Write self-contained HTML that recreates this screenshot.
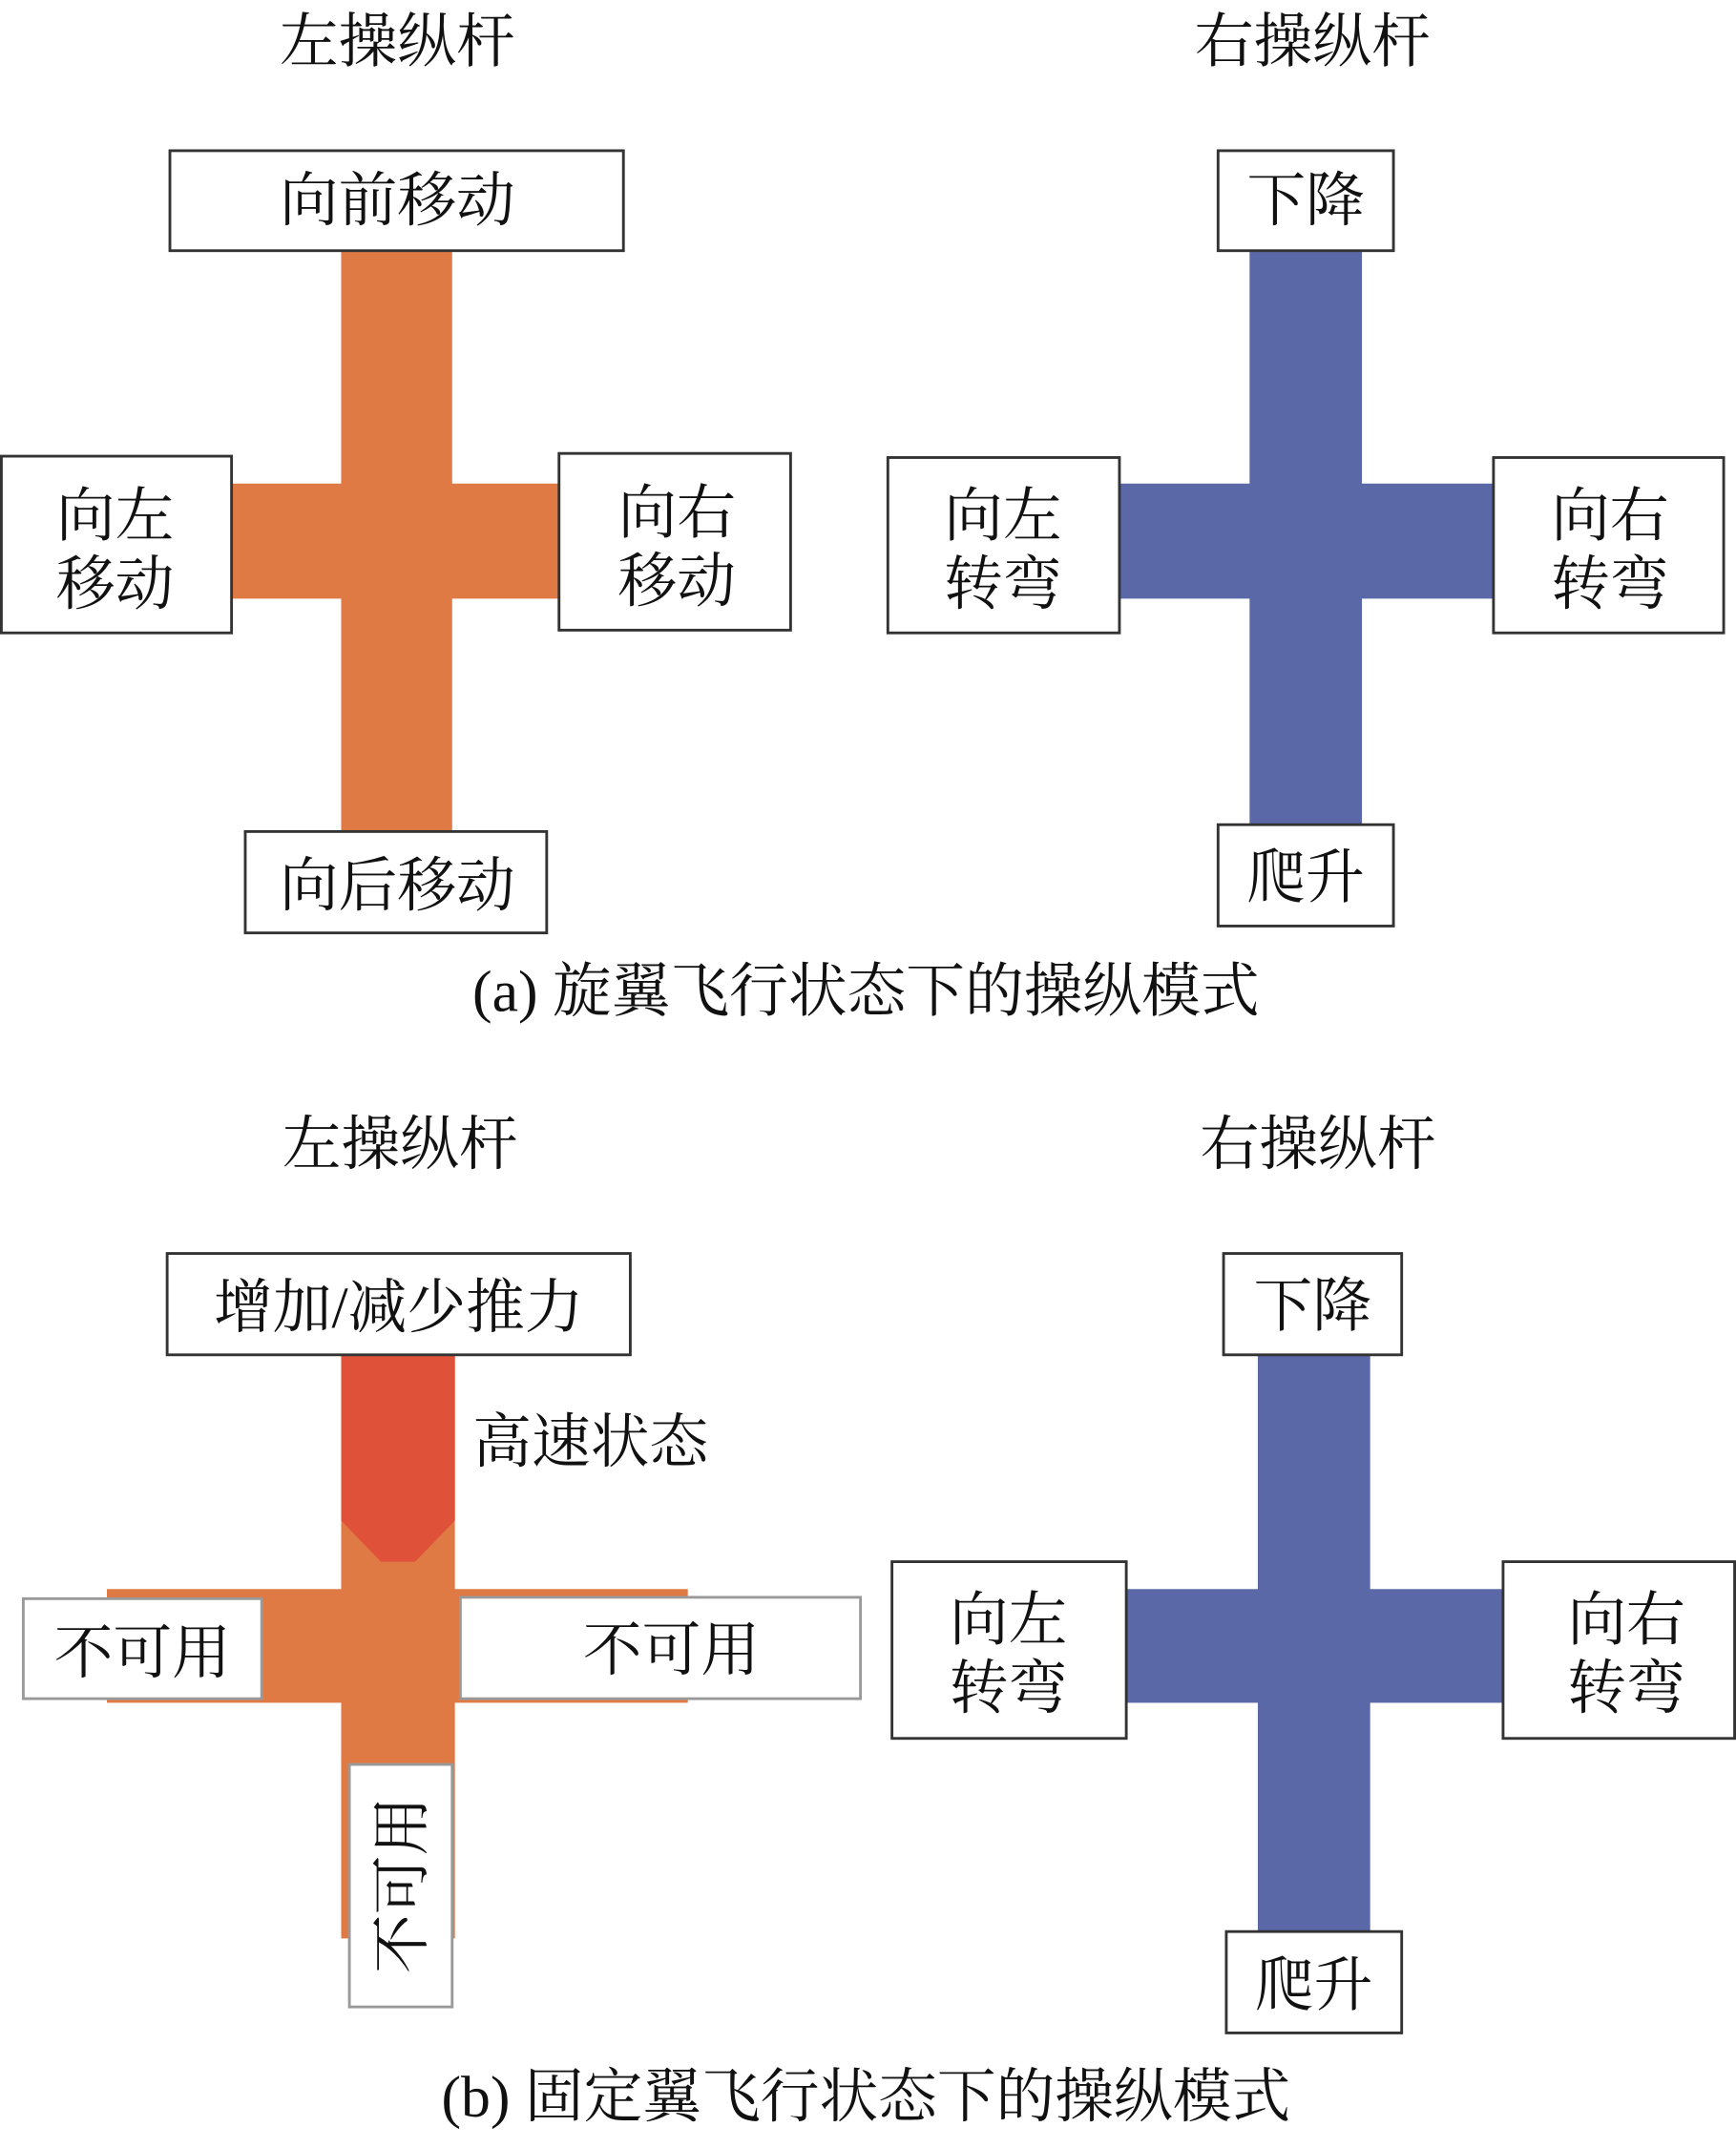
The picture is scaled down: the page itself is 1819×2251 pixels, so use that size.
<!DOCTYPE html>
<html><head><meta charset="utf-8"><style>
html,body{margin:0;padding:0;background:#fff;}
svg{display:block;}
text{font-family:"Liberation Serif","Noto Serif CJK SC","Noto Sans CJK SC",serif;fill:#111;}
</style></head><body>
<svg width="1819" height="2251" viewBox="0 0 1267 1568" preserveAspectRatio="none" xmlns="http://www.w3.org/2000/svg">
<rect width="1267" height="1568" fill="#fff"/>
<g font-size="43" text-anchor="middle">
<text x="290" y="45">左操纵杆</text>
<text x="958" y="45">右操纵杆</text>
<text x="292" y="850">左操纵杆</text>
<text x="962" y="850">右操纵杆</text>
</g>
<g fill="#e07a45">
<rect x="249" y="183" width="81" height="424"/>
<rect x="168" y="353" width="240" height="84"/>
</g>
<g fill="#fff" stroke="#333" stroke-width="2">
<rect x="124" y="110" width="331" height="73"/>
<rect x="1" y="333" width="168" height="129"/>
<rect x="408" y="331" width="169" height="129"/>
<rect x="179" y="607" width="220" height="74"/>
</g>
<g font-size="43" text-anchor="middle">
<text x="290" y="161">向前移动</text>
<text x="84" y="391">向左</text><text x="84" y="441">移动</text>
<text x="494" y="389">向右</text><text x="494" y="439">移动</text>
<text x="290" y="661">向后移动</text>
</g>
<g fill="#5a68a8">
<rect x="912" y="183" width="82" height="419"/>
<rect x="817" y="353" width="273" height="84"/>
</g>
<g fill="#fff" stroke="#333" stroke-width="2">
<rect x="889" y="110" width="128" height="73"/>
<rect x="648" y="334" width="169" height="128"/>
<rect x="1090" y="334" width="168" height="128"/>
<rect x="889" y="602" width="128" height="74"/>
</g>
<g font-size="43" text-anchor="middle">
<text x="953" y="161">下降</text>
<text x="732" y="391">向左</text><text x="732" y="441">转弯</text>
<text x="1175" y="391">向右</text><text x="1175" y="441">转弯</text>
<text x="953" y="655">爬升</text>
</g>
<text x="632" y="738" font-size="43" text-anchor="middle">(a) 旋翼飞行状态下的操纵模式</text>
<g fill="#e07a45">
<rect x="249" y="989" width="83" height="426"/>
<rect x="78" y="1160" width="424" height="83"/>
</g>
<polygon points="249,989 332,989 332,1110 303,1140 278,1140 249,1110" fill="#e0513a"/>
<rect x="122" y="915" width="338" height="74" fill="#fff" stroke="#333" stroke-width="2"/>
<g fill="#fff" stroke="#999" stroke-width="2">
<rect x="17" y="1167" width="174" height="73"/>
<rect x="336" y="1166" width="292" height="74"/>
<rect x="255" y="1288" width="75" height="177"/>
</g>
<g font-size="43">
<text x="291" y="969" text-anchor="middle">增加/减少推力</text>
<text x="345" y="1067">高速状态</text>
<text x="104" y="1221" text-anchor="middle">不可用</text>
<text x="490" y="1219" text-anchor="middle">不可用</text>
<text transform="translate(293,1376) rotate(-90)" text-anchor="middle" y="15">不可用</text>
</g>
<g fill="#5a68a8">
<rect x="918" y="989" width="82" height="421"/>
<rect x="822" y="1160" width="275" height="83"/>
</g>
<g fill="#fff" stroke="#333" stroke-width="2">
<rect x="893" y="915" width="130" height="74"/>
<rect x="651" y="1140" width="171" height="129"/>
<rect x="1097" y="1140" width="169" height="129"/>
<rect x="895" y="1410" width="128" height="74"/>
</g>
<g font-size="43" text-anchor="middle">
<text x="958" y="968">下降</text>
<text x="736" y="1197">向左</text><text x="736" y="1247">转弯</text>
<text x="1187" y="1197">向右</text><text x="1187" y="1247">转弯</text>
<text x="959" y="1464">爬升</text>
</g>
<text x="632" y="1545" font-size="43" text-anchor="middle">(b) 固定翼飞行状态下的操纵模式</text>
</svg>
</body></html>
